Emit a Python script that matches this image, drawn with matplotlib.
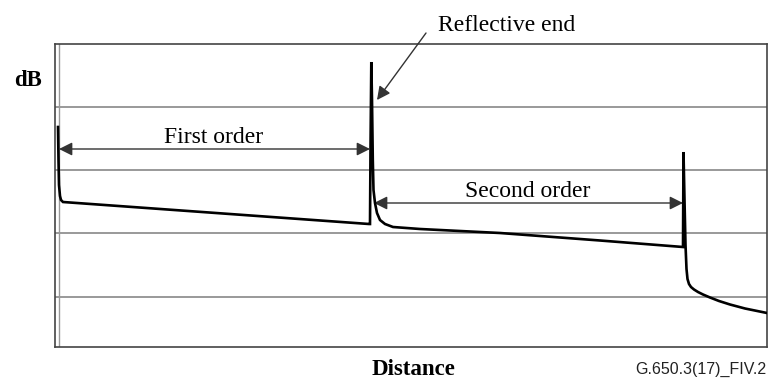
import matplotlib
matplotlib.use("Agg")
import matplotlib.pyplot as plt

# OTDR trace (arbitrary units: distance, relative level)
distance = [3, 3.5, 4, 5, 6, 8, 314,
            315, 315.5, 316.3, 317, 317.8, 318.5, 320, 322, 325, 330, 338,
            365, 405, 445, 545, 628,
            628.5, 629.5, 630.5, 631.5, 632.5, 634, 636, 639, 643, 648,
            655, 664, 675, 690, 712]
level = [220, 187, 162, 151, 147, 145, 123,
         123, 197, 285, 247, 187, 157, 144, 134, 127, 123, 120,
         118, 116, 114, 106.5, 100,
         195, 147, 102, 78, 68, 63, 60, 57.5, 55, 52.5,
         49.5, 46, 42.5, 38.5, 34]

grid_levels = [50, 114, 177, 240]
first_order = (4, 315)
second_order = (319, 628)
first_y, second_y = 198, 144
reflect_tip = (322, 247)
reflect_tail = (371, 314)

W, H = 768, 380
fig = plt.figure(figsize=(W / 100, H / 100), dpi=100)
ax = fig.add_axes([55 / W, 33 / H, 712 / W, 303 / H])
ax.set_xlim(0, 712)
ax.set_ylim(0, 303)

for g in grid_levels:
    ax.axhline(g, color="#999999", lw=1.4, zorder=1)
ax.axvline(4, color="#999999", lw=1.0, zorder=1)

ax.plot(distance, level, color="black", lw=1.9, solid_joinstyle="miter", zorder=3)

arrow_style = dict(arrowstyle="<|-|>", color="#333333", lw=1.0,
                   mutation_scale=20, shrinkA=0, shrinkB=0)
ax.annotate("", xy=(first_order[0], first_y), xytext=(first_order[1], first_y),
            arrowprops=arrow_style, zorder=2)
ax.annotate("", xy=(second_order[0], second_y), xytext=(second_order[1], second_y),
            arrowprops=arrow_style, zorder=2)

serif = ["Liberation Serif", "DejaVu Serif"]
ax.text(159, 204, "First order", fontsize=17, family=serif, ha="center", va="baseline")
ax.text(473, 150, "Second order", fontsize=17, family=serif, ha="center", va="baseline")

# reflective end label and its pointer
ax.annotate("", xy=reflect_tip, xytext=reflect_tail, annotation_clip=False,
            arrowprops=dict(arrowstyle="-|>", color="#333333", lw=1.0,
                            mutation_scale=20, shrinkA=0, shrinkB=0))
ax.text(383, 316, "Reflective end", fontsize=17, family=serif, ha="left",
        va="baseline", clip_on=False)

for s in ax.spines.values():
    s.set_color("#444444")
    s.set_linewidth(1.2)
ax.set_xticks([])
ax.set_yticks([])

fig.text(28 / W, 1 - 86 / H, "dB", fontsize=16.5, family=serif, weight="bold",
         ha="center", va="baseline")
fig.text(413 / W, 1 - 375 / H, "Distance", fontsize=16.5, family=serif,
         weight="bold", ha="center", va="baseline")
fig.text(766 / W, 1 - 374 / H, "G.650.3(17)_FIV.2", fontsize=11.5,
         family=["Liberation Sans", "DejaVu Sans"], color="#222222",
         ha="right", va="baseline")

fig.savefig("out.png", dpi=100)
